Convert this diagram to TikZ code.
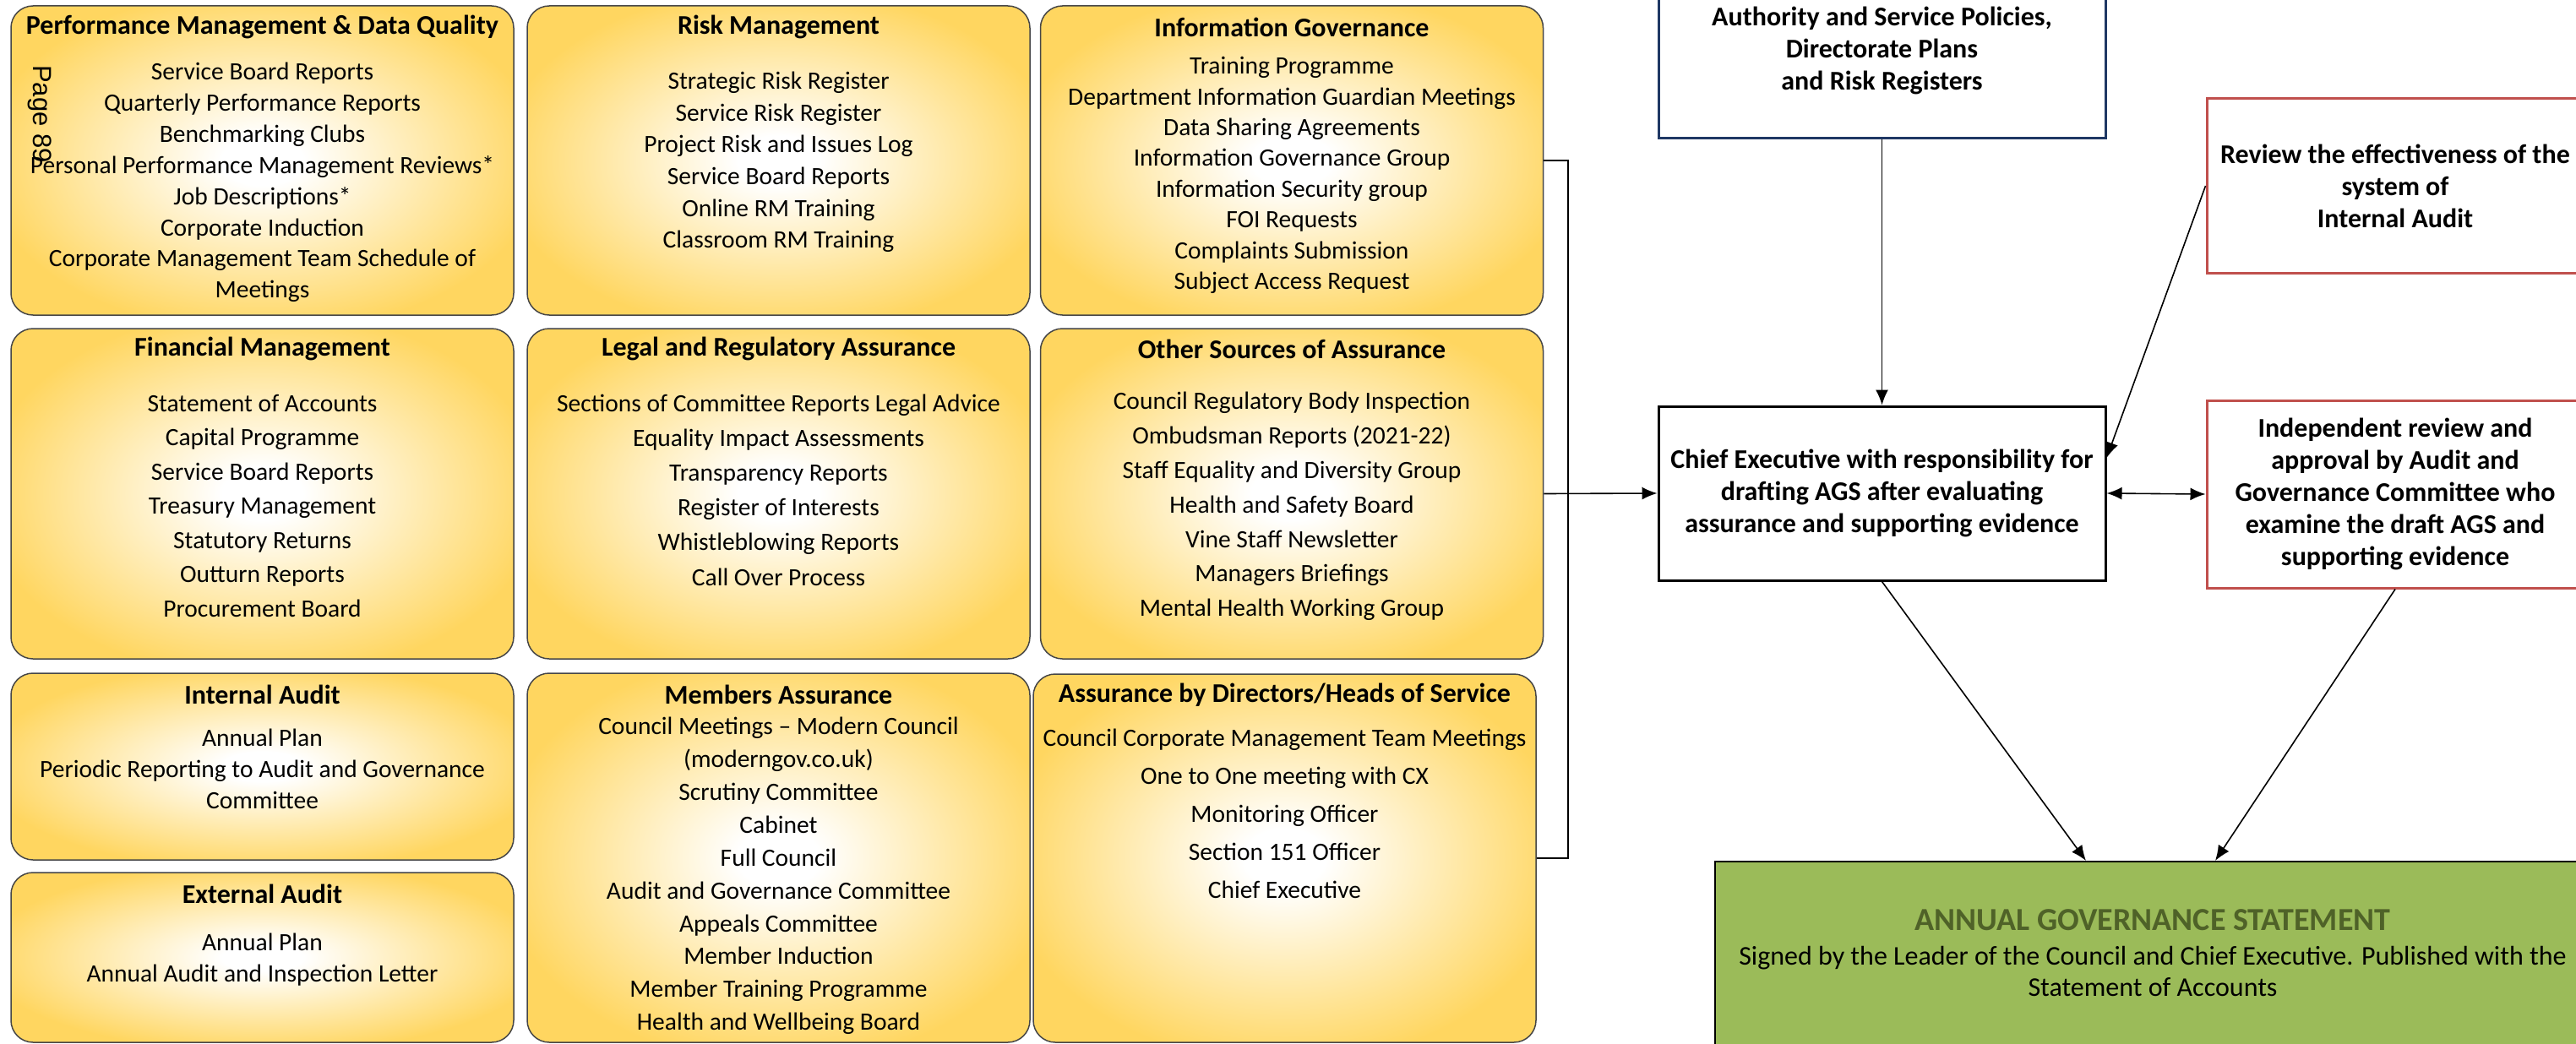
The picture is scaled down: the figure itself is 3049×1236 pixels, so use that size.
\documentclass[tikz,border=0pt]{standalone}
\usepackage{fontspec}
\setmainfont{Carlito}
\newfontfamily\pagefont{Liberation Sans}
\usetikzlibrary{arrows.meta,calc}
\definecolor{goldedge}{RGB}{255,214,96}
\definecolor{boxline}{RGB}{70,70,70}
\definecolor{navyline}{RGB}{31,56,100}
\definecolor{redline}{RGB}{192,80,77}
\definecolor{agsgreen}{RGB}{155,187,89}
\definecolor{agsdark}{RGB}{79,98,40}
\pgfdeclareradialshading{goldglow}{\pgfpoint{0bp}{0bp}}{color(0bp)=(white); color(4bp)=(white); color(28bp)=(goldedge); color(50bp)=(goldedge)}
\tikzset{
	goldbox/.style={draw=boxline, line width=1.5pt, rounded corners=26pt, shading=goldglow, minimum width=595pt},
	ytitle/.style={font=\bfseries\fontsize{32}{36}\selectfont},
	ylist/.style={align=center, font=\fontsize{29.5}{#1}\selectfont},
	flowbox/.style={draw, line width=3pt, align=center, font=\bfseries\fontsize{32}{38}\selectfont, fill=white},
	conn/.style={line width=1.6pt},
}
\begin{document}
\begin{tikzpicture}[x=1pt, y=-1pt, >={Latex[length=18pt,width=15pt]}]
	\useasboundingbox (0,0) rectangle (3049,1236);
	
	% sources of assurance, first row
	\node[goldbox, minimum height=366pt] (pm) at (310.5,190) {};
	\node[goldbox, minimum height=366pt] (rm) at (921.5,190) {};
	\node[goldbox, minimum height=366pt] (ig) at (1529,190) {};
	% second row
	\node[goldbox, minimum height=391pt] (fm) at (310.5,584.5) {};
	\node[goldbox, minimum height=391pt] (lr) at (921.5,584.5) {};
	\node[goldbox, minimum height=391pt] (os) at (1529,584.5) {};
	% third row
	\node[goldbox, minimum height=221pt] (ia) at (310.5,907.5) {};
	\node[goldbox, minimum height=201pt] (ea) at (310.5,1133.5) {};
	\node[goldbox, minimum height=437pt] (ma) at (921.5,1015.5) {};
	\node[goldbox, minimum height=436pt] (dh) at (1520.5,1016) {};
	
	\node[ytitle] (pmT) at (310.5,32) {Performance Management \& Data Quality};
	\node[ylist=36.9] (pmL) at (310.5,216) {Service Board Reports\\Quarterly Performance Reports\\Benchmarking Clubs\\Personal Performance Management Reviews*\\Job Descriptions*\\Corporate Induction\\Corporate Management Team Schedule of\\Meetings};
	\node[rotate=-90, font=\pagefont\fontsize{31}{31}\selectfont] (page) at (47,135) {Page 89};%Seitenzahl
	
	\node[ytitle] (rmT) at (921.5,32) {Risk Management};
	\node[ylist=37.6] (rmL) at (921.5,192) {Strategic Risk Register\\Service Risk Register\\Project Risk and Issues Log\\Service Board Reports\\Online RM Training\\Classroom RM Training};
	
	\node[ytitle] (igT) at (1529,32) {Information Governance};
	\node[ylist=36.4] (igL) at (1529,207.5) {Training Programme\\Department Information Guardian Meetings\\Data Sharing Agreements\\Information Governance Group\\Information Security group\\FOI Requests\\Complaints Submission\\Subject Access Request};
	
	\node[ytitle] (fmT) at (310.5,413) {Financial Management};
	\node[ylist=40.5] (fmL) at (310.5,598.5) {Statement of Accounts\\Capital Programme\\Service Board Reports\\Treasury Management\\Statutory Returns\\Outturn Reports\\Procurement Board};
	
	\node[ytitle] (lrT) at (921.5,413) {Legal and Regulatory Assurance};
	\node[ylist=41.2] (lrL) at (921.5,580) {Sections of Committee Reports Legal Advice\\Equality Impact Assessments\\Transparency Reports\\Register of Interests\\Whistleblowing Reports\\Call Over Process};
	
	\node[ytitle] (osT) at (1529,413) {Other Sources of Assurance};
	\node[ylist=40.8] (osL) at (1529,599.5) {Council Regulatory Body Inspection\\Ombudsman Reports (2021-22)\\Staff Equality and Diversity Group\\Health and Safety Board\\Vine Staff Newsletter\\Managers Briefings\\Mental Health Working Group};
	
	\node[ytitle] (iaT) at (310.5,822) {Internal Audit};
	\node[ylist=37] (iaL) at (310.5,910) {Annual Plan\\Periodic Reporting to Audit and Governance\\Committee};
	
	\node[ytitle] (eaT) at (310.5,1058) {External Audit};
	\node[ylist=37] (eaL) at (310.5,1136.5) {Annual Plan\\Annual Audit and Inspection Letter};
	
	\node[ytitle] (maT) at (921.5,822) {Members Assurance};
	\node[ylist=38.9] (maL) at (921.5,1037) {Council Meetings -- Modern Council\\(moderngov.co.uk)\\Scrutiny Committee\\Cabinet\\Full Council\\Audit and Governance Committee\\Appeals Committee\\Member Induction\\Member Training Programme\\Health and Wellbeing Board};
	
	\node[ytitle] (dhT) at (1520.5,823) {Assurance by Directors/Heads of Service};
	\node[ylist=45] (dhL) at (1520.5,963) {Council Corporate Management Team Meetings\\One to One meeting with CX\\Monitoring Officer\\Section 151 Officer\\Chief Executive};
	
	% right hand side
	\node[flowbox, draw=navyline, minimum width=529pt, minimum height=206pt] (auth) at (2227.5,60) {Authority and Service Policies,\\Directorate Plans\\and Risk Registers};
	\node[flowbox, draw=redline, minimum width=446pt, minimum height=206pt] (rev) at (2835,220) {Review the effectiveness of the\\system of\\Internal Audit};
	\node[flowbox, minimum width=529pt, minimum height=206pt] (ce) at (2227.5,584) {Chief Executive with responsibility for\\drafting AGS after evaluating\\assurance and supporting evidence};
	\node[flowbox, draw=redline, minimum width=446pt, minimum height=222pt] (ind) at (2835,585) {Independent review and\\approval by Audit and\\Governance Committee who\\examine the draft AGS and\\supporting evidence};
	\node[draw, line width=2pt, fill=agsgreen, minimum width=1036pt, minimum height=280pt] (ags) at (2548,1160) {};
	\node[align=center, font=\fontsize{32}{37}\selectfont] (agsT) at (2548,1128) {{\bfseries\fontsize{38}{38}\selectfont\color{agsdark}ANNUAL GOVERNANCE STATEMENT}\\[4pt]Signed by the Leader of the Council and Chief Executive. Published with the\\Statement of Accounts};
	
	% connectors
	\coordinate (trunk) at (1856,0);
	\draw[conn] (ig.east) -- (ig.east -| trunk) -- (dh.east -| trunk) -- (dh.east);
	\draw[conn, ->] (os.east) -- (ce.west);
	\draw[conn, ->] (auth.south) -- (ce.north);
	\draw[conn, ->] (rev.west) -- (ce.9);
	\draw[conn, <->] (ce.east) -- (ind.west);
	\draw[conn, ->] (ce.south) -- ($(ags.north)+(-79,0)$);
	\draw[conn, ->] (ind.south) -- ($(ags.north)+(74,0)$);
\end{tikzpicture}
\end{document}
